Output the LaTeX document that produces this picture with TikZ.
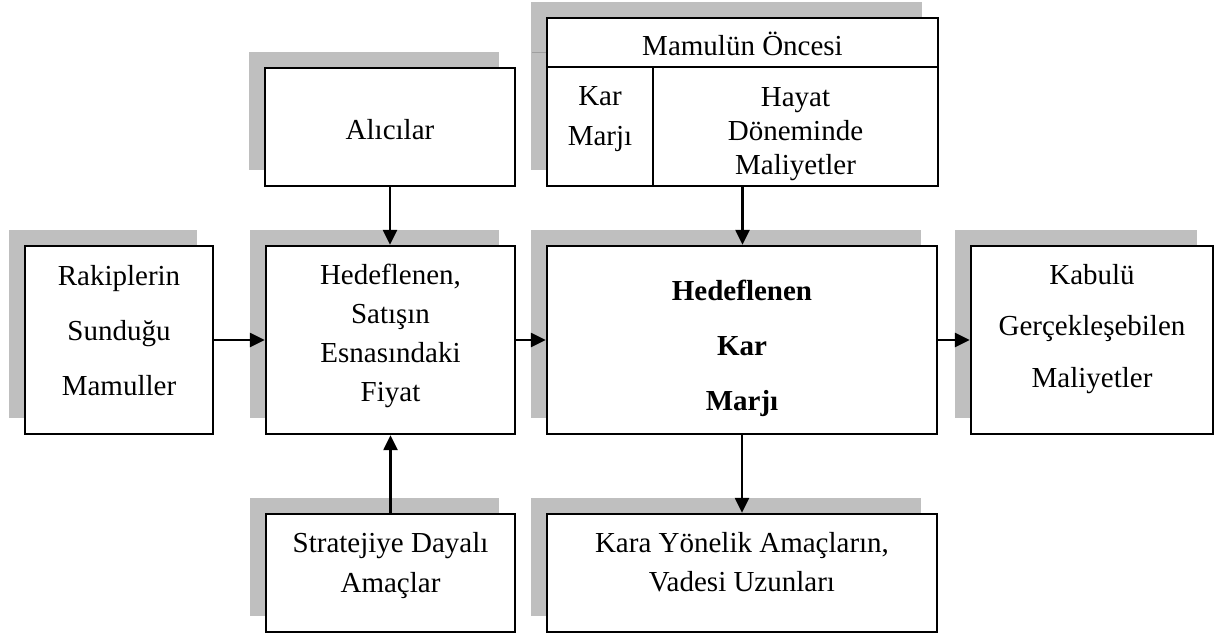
\documentclass[tikz,border=0pt]{standalone}
\usepackage{fontspec}
\setmainfont{Liberation Serif}
\usetikzlibrary{arrows.meta,shadows}
\definecolor{sgray}{RGB}{191,191,191}
\begin{document}
\begin{tikzpicture}[x=1pt,y=-1pt,
  box/.style={draw, line width=2.3pt, fill=white, inner sep=0pt,
    drop shadow={shadow xshift=-16pt, shadow yshift=16pt, opacity=1, fill=sgray}},
  txt/.style={anchor=base, inner sep=0pt, font=\fontsize{29}{34}\selectfont},
  btxt/.style={txt, font=\fontsize{29}{34}\selectfont\bfseries},
  arr/.style={-{Triangle[length=15pt,width=14pt]}, line width=2.3pt},
  divider/.style={line width=2.3pt}]
\useasboundingbox (0,0) rectangle (1221,637);

% boxes
\node[box, minimum width=188pt, minimum height=188pt] (rakip) at (119,340) {};
\node[box, minimum width=249pt, minimum height=188pt] (satis) at (390.5,340) {};
\node[box, minimum width=390pt, minimum height=188pt] (karm) at (742,340) {};
\node[box, minimum width=242pt, minimum height=188pt] (kabul) at (1092,340) {};
\node[box, minimum width=250pt, minimum height=118pt] (alici) at (390,127) {};
\node[box, minimum width=391pt, minimum height=168pt] (mamul) at (742.5,102) {};
\node[box, minimum width=249pt, minimum height=118pt] (strat) at (390.5,573) {};
\node[box, minimum width=390pt, minimum height=118pt] (kara) at (742,573) {};

% small artefact line on the shadow of the top box
\draw[gray!75, line width=0.8pt] (532,52) -- (mamul.west |- 0,52);

% dividers inside the top box
\coordinate (mdiv) at (653,67);
\draw[divider] (mamul.west |- mdiv) -- (mamul.east |- mdiv);
\draw[divider] (mdiv) -- (mdiv |- mamul.south);

% texts
\foreach \t [count=\i] in {Rakiplerin,Sunduğu,Mamuller}
  \node[txt] (rakipT\i) at (119,{285+55*(\i-1)}) {\t};
\foreach \t [count=\i] in {{Hedeflenen,},Satışın,Esnasındaki,Fiyat}
  \node[txt] (satisT\i) at (390.5,{284+39*(\i-1)}) {\t};
\foreach \t [count=\i] in {Hedeflenen,Kar,Marjı}
  \node[btxt] (karmT\i) at (742,{300+55*(\i-1)}) {\t};
\foreach \t [count=\i] in {Kabulü,Gerçekleşebilen,Maliyetler}
  \node[txt] (kabulT\i) at (1092,{284+51.5*(\i-1)}) {\t};
\node[txt] (aliciT) at (390,139) {Alıcılar};
\node[txt] (mamulT) at (742.5,55) {Mamulün Öncesi};
\foreach \t [count=\i] in {Kar,Marjı}
  \node[txt] (kmT\i) at (600,{105+40*(\i-1)}) {\t};
\foreach \t [count=\i] in {Hayat,Döneminde,Maliyetler}
  \node[txt] (hdmT\i) at (795.5,{106+34*(\i-1)}) {\t};
\foreach \t [count=\i] in {Stratejiye Dayalı,Amaçlar}
  \node[txt] (stratT\i) at (390.5,{552+40*(\i-1)}) {\t};
\foreach \t [count=\i] in {{Kara Yönelik Amaçların,},Vadesi Uzunları}
  \node[txt] (karaT\i) at (742,{552+39*(\i-1)}) {\t};

% connectors
\draw[arr] (rakip.east) -- (satis.west);
\draw[arr] (satis.east) -- (karm.west);
\draw[arr] (karm.east) -- (kabul.west);
\draw[arr] (alici.south) -- (alici.south |- satis.north);
\draw[arr] (strat.north) -- (strat.north |- satis.south);
\draw[arr] (mamul.south) -- (mamul.south |- karm.north);
\draw[arr] (karm.south) -- (karm.south |- kara.north);
\end{tikzpicture}
\end{document}
